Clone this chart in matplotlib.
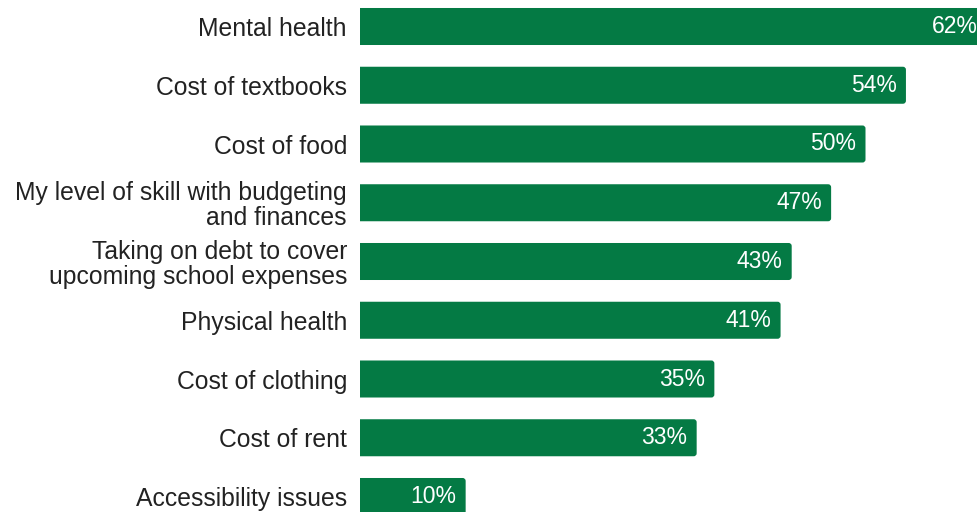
import matplotlib.pyplot as plt
from matplotlib.patches import FancyBboxPatch

plt.rcParams['font.family'] = ['Liberation Sans', 'DejaVu Sans']

labels = ["Mental health", "Cost of textbooks", "Cost of food",
          "My level of skill with budgeting\nand finances",
          "Taking on debt to cover\nupcoming school expenses",
          "Physical health", "Cost of clothing", "Cost of rent",
          "Accessibility issues"]
pct_text = ["62%", "54%", "50%", "47%", "43%", "41%", "35%", "33%", "10%"]
# bar lengths as drawn in the picture
values = [62, 54, 50, 46.6, 42.7, 41.6, 35.05, 33.3, 10.45]

green = "#047a44"
pxx = 10.11   # px per percent
pxy = 58.75   # px per row

fig = plt.figure(figsize=(9.77, 5.12), dpi=100)
ax = fig.add_axes([360 / 977, 0, 1 - 360 / 977, 1])
ax.set_xlim(0, (977 - 360) / pxx)
ax.set_ylim((512 - 26.5) / pxy, -26.5 / pxy)

h = 0.63
r = 3 / pxx
aspect = (3 / pxy) / r
for i, v in enumerate(values):
    box = FancyBboxPatch((-2, i - h / 2), v + 2, h,
                         boxstyle=f"round,pad=0,rounding_size={r}",
                         mutation_aspect=aspect, facecolor=green,
                         edgecolor="none")
    ax.add_patch(box)
    ax.text(v - 0.9, i, pct_text[i], color="white", fontsize=16.5,
            ha="right", va="center")

ax.set_yticks(range(len(labels)))
ax.set_yticklabels(labels, fontsize=17.8, color="#222222", linespacing=1.05)
ax.tick_params(axis="y", length=0, pad=9.4)
ax.set_xticks([])
for s in ax.spines.values():
    s.set_visible(False)

fig.savefig("out.png", dpi=100)
